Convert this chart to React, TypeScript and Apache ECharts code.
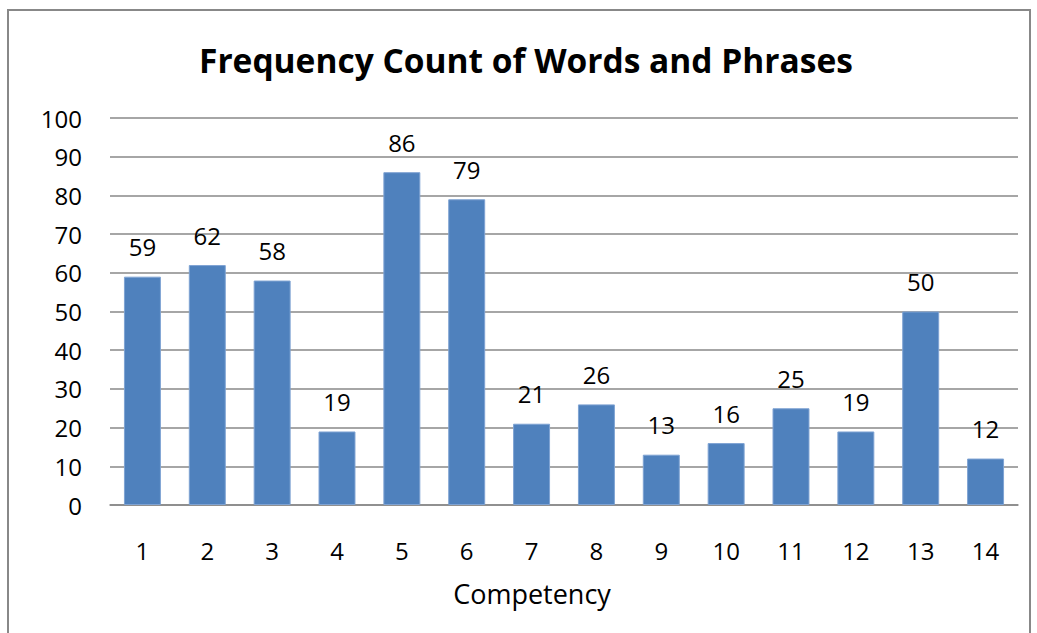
import React, { useEffect, useRef } from "react";
import * as echarts from "echarts";

const categories = ["1", "2", "3", "4", "5", "6", "7", "8", "9", "10", "11", "12", "13", "14"];
const values = [59, 62, 58, 19, 86, 79, 21, 26, 13, 16, 25, 19, 50, 12];
const titleText = "Frequency Count of Words and Phrases";
const xAxisName = "Competency";

export default function App() {
  const ref = useRef<HTMLDivElement>(null);
  useEffect(() => {
    if (!ref.current) return;
    const chart = echarts.init(ref.current, null, { renderer: "svg" });
    const font = "'Open Sans', 'DejaVu Sans', sans-serif";
    chart.setOption({
      animation: false,
      backgroundColor: "#fff",
      textStyle: { fontFamily: font },
      title: {
        text: titleText,
        left: 194,
        top: 38,
        textStyle: { fontFamily: font, fontSize: 33.5, fontWeight: "bold", color: "#000" },
      },
      graphic: [
        {
          type: "rect",
          shape: { x: 8, y: 10, width: 1022, height: 640 },
          style: { fill: "none", stroke: "#888", lineWidth: 2 },
          silent: true,
        },
      ],
      grid: { left: 110, right: 19, top: 118, bottom: 128, containLabel: false },
      xAxis: {
        type: "category",
        data: categories,
        name: xAxisName,
        nameLocation: "middle",
        nameGap: 75,
        nameTextStyle: { fontSize: 27, color: "#000", fontFamily: font, padding: [0, 64, 0, 0] },
        axisLine: { show: true, lineStyle: { color: "#888", width: 1.5 } },
        axisTick: { show: false },
        axisLabel: { fontSize: 24, color: "#000", margin: 33, fontFamily: font },
      },
      yAxis: {
        type: "value",
        min: 0,
        max: 100,
        interval: 10,
        axisLine: { show: false },
        axisTick: { show: false },
        axisLabel: { fontSize: 24, color: "#000", margin: 28, fontFamily: font },
        splitLine: { lineStyle: { color: "#888", width: 1.5 } },
      },
      series: [
        {
          type: "bar",
          data: values,
          barWidth: "57%",
          itemStyle: { color: "#4F81BD", borderColor: "#7FA3D3", borderWidth: 1 },
          label: {
            show: true,
            position: "top",
            distance: 18,
            fontSize: 24,
            color: "#000",
            fontFamily: font,
          },
        },
      ],
    });
    return () => chart.dispose();
  }, []);
  return (
    <div
      ref={ref}
      style={{ position: "absolute", left: 0, top: 0, width: 1037, height: 633 }}
    />
  );
}
